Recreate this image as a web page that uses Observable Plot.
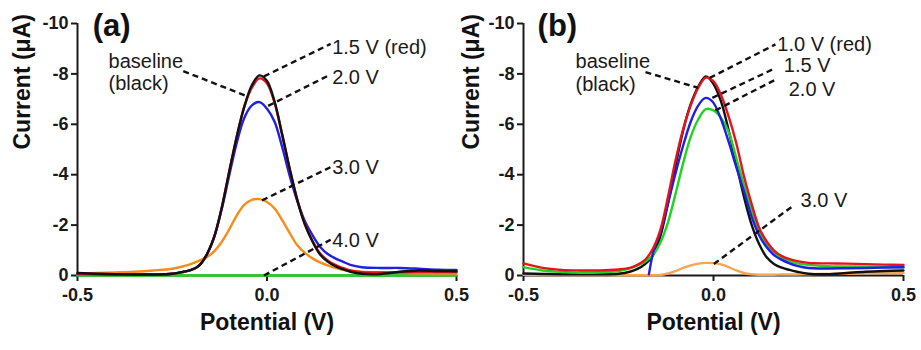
<!DOCTYPE html>
<html>
<head>
<meta charset="utf-8">
<script src="https://cdn.jsdelivr.net/npm/d3@7"></script>
<script src="https://cdn.jsdelivr.net/npm/@observablehq/plot@0.6"></script>
<style>
  html, body { margin: 0; padding: 0; background: #fff; }
  #wrap { display: flex; width: 921px; height: 350px; overflow: hidden; }
  #wrap svg { overflow: visible; }
  #wrap svg [aria-label$="tick label"] text { font-weight: bold; }
</style>
</head>
<body>
<div id="wrap"></div>
<script>
// ---------- shared axes ----------
const xTicks = [-0.5, 0, 0.5];
const yTicks = [0, -2, -4, -6, -8, -10];

// ---------- panel (a) ----------
const potentialA = [-0.5,-0.45,-0.4,-0.35,-0.3,-0.25,-0.22,-0.2,-0.18,-0.16,-0.14,-0.12,-0.1,-0.08,-0.06,-0.04,-0.02,0,0.02,0.04,0.06,0.08,0.1,0.12,0.14,0.16,0.18,0.2,0.22,0.25,0.3,0.35,0.4,0.45,0.5];
const baselineA = [-0.1,-0.07,-0.05,-0.04,-0.04,-0.07,-0.15,-0.22,-0.38,-0.8,-1.5,-2.65,-4.1,-5.5,-6.7,-7.55,-7.94,-7.72,-6.9,-5.6,-4.23,-2.99,-2.02,-1.35,-0.83,-0.55,-0.37,-0.25,-0.15,-0.07,-0.06,-0.15,-0.2,-0.18,-0.17];
const v15A = [-0.08,-0.06,-0.05,-0.04,-0.04,-0.07,-0.15,-0.22,-0.38,-0.8,-1.5,-2.65,-4.1,-5.5,-6.68,-7.45,-7.82,-7.62,-6.85,-5.58,-4.22,-3.0,-2.05,-1.38,-0.88,-0.6,-0.42,-0.3,-0.2,-0.13,-0.12,-0.13,-0.14,-0.14,-0.14];
const v20A = [-0.06,-0.05,-0.04,-0.04,-0.04,-0.07,-0.15,-0.22,-0.38,-0.8,-1.5,-2.6,-3.95,-5.25,-6.25,-6.75,-6.88,-6.62,-6.1,-5.1,-3.95,-2.95,-2.15,-1.6,-1.14,-0.85,-0.68,-0.55,-0.42,-0.33,-0.3,-0.3,-0.27,-0.23,-0.22];
const v30A = [-0.09,-0.1,-0.12,-0.15,-0.2,-0.27,-0.37,-0.46,-0.58,-0.72,-0.95,-1.32,-1.82,-2.38,-2.8,-3.0,-3.03,-2.92,-2.66,-2.2,-1.68,-1.2,-0.9,-0.68,-0.52,-0.4,-0.3,-0.23,-0.19,-0.15,-0.12,-0.1,-0.09,-0.08,-0.08];
const v40A = [0,0,0,0,0,0,0,0,0,0,0,0,0,0,0,0,0,0,0,0,0,0,0,0,0,0,0,0,0,0,0,0,0,0,0];

const textA = ["baseline", "(black)", "1.5 V (red)", "2.0 V", "3.0 V", "4.0 V"];
const textAx = [-0.418, -0.418, 0.172, 0.172, 0.172, 0.172];
const textAy = [-8.49, -7.61, -9.06, -7.86, -4.29, -1.39];
const leadAx1 = [-0.221, -0.008, 0.003, -0.013, -0.008];
const leadAy1 = [-8.11, -7.9, -6.73, -2.98, 0];
const leadAx2 = [-0.057, 0.168, 0.168, 0.168, 0.168];
const leadAy2 = [-7.14, -9.19, -7.98, -4.3, -1.42];

// ---------- panel (b) ----------
const potentialB = [-0.5,-0.45,-0.4,-0.35,-0.3,-0.25,-0.22,-0.2,-0.18,-0.16,-0.14,-0.12,-0.1,-0.08,-0.06,-0.04,-0.02,0,0.02,0.04,0.06,0.08,0.1,0.12,0.14,0.16,0.18,0.2,0.22,0.25,0.3,0.35,0.4,0.45,0.5];
const baselineB = [-0.08,-0.06,-0.05,-0.05,-0.05,-0.07,-0.15,-0.26,-0.45,-0.78,-1.55,-2.85,-4.35,-5.75,-6.8,-7.5,-7.9,-7.6,-6.9,-5.75,-4.43,-3.13,-2.03,-1.25,-0.72,-0.45,-0.31,-0.22,-0.15,-0.07,-0.05,-0.1,-0.15,-0.18,-0.2];
const v10B = [-0.48,-0.3,-0.22,-0.2,-0.2,-0.24,-0.3,-0.42,-0.62,-1.05,-1.8,-3.1,-4.56,-5.8,-6.75,-7.45,-7.85,-7.7,-7.15,-6.3,-5.25,-3.95,-2.85,-1.9,-1.35,-0.98,-0.77,-0.65,-0.57,-0.5,-0.48,-0.47,-0.45,-0.43,-0.42];
const v20B = [-0.33,-0.2,-0.14,-0.11,-0.12,-0.18,-0.28,-0.4,-0.55,-0.8,-1.3,-2.1,-3.24,-4.45,-5.5,-6.2,-6.6,-6.55,-6.25,-5.7,-4.65,-3.6,-2.6,-1.78,-1.25,-0.9,-0.7,-0.57,-0.48,-0.42,-0.37,-0.36,-0.35,-0.34,-0.33];
const v30B = [-0.03,-0.02,-0.02,-0.02,-0.02,-0.01,-0.01,-0.01,-0.01,-0.01,-0.02,-0.08,-0.17,-0.3,-0.4,-0.47,-0.5,-0.49,-0.44,-0.33,-0.2,-0.1,-0.05,-0.03,-0.03,-0.03,-0.04,-0.04,-0.04,-0.05,-0.06,-0.07,-0.09,-0.1,-0.1];
const potentialB15 = [-0.17,-0.16,-0.14,-0.12,-0.1,-0.08,-0.06,-0.04,-0.02,0,0.02,0.04,0.06,0.08,0.1,0.12,0.14,0.16,0.18,0.2,0.22,0.25,0.3,0.35,0.4,0.45,0.5];
const v15B = [-0.05,-0.85,-1.7,-2.85,-4.05,-5.15,-6.1,-6.75,-7.05,-6.85,-6.2,-5.3,-4.3,-3.35,-2.35,-1.6,-1.12,-0.8,-0.62,-0.48,-0.38,-0.3,-0.28,-0.29,-0.3,-0.32,-0.33];

const textB = ["baseline", "(black)", "1.0 V (red)", "1.5 V", "2.0 V", "3.0 V"];
const textBx = [-0.363, -0.363, 0.168, 0.185, 0.198, 0.229];
const textBy = [-8.48, -7.56, -9.18, -8.31, -7.38, -2.96];
const leadBx1 = [-0.179, -0.01, -0.003, 0.005, 0.001];
const leadBy1 = [-8.07, -7.84, -7.05, -6.55, -0.46];
const leadBx2 = [-0.041, 0.163, 0.163, 0.163, 0.211];
const leadBy2 = [-7.45, -9.17, -8.23, -7.77, -2.78];

// ---------- colours ----------
const cBlack = "#111111", cRed = "#e8121c", cBlue = "#1f1fe6", cGreen = "#1fd41f", cOrange = "#f98b1c", cOrangeB = "#f7a550";

const FONT = "'Liberation Sans', Arial, Helvetica, sans-serif";

function series(xs, ys) { return xs.map((x, i) => ({x, y: ys[i]})); }
function links(x1, y1, x2, y2) { return x1.map((_, i) => ({x1: x1[i], y1: y1[i], x2: x2[i], y2: y2[i]})); }
function labels(t, xs, ys) { return t.map((s, i) => ({t: s, x: xs[i], y: ys[i]})); }

function panel({width, marginLeft, marginRight, tag, tagX, curves, leads, texts, yLabelDx}) {
  const lineMarks = curves.map(c => Plot.line(series(c.x, c.y), {x: "x", y: "y", stroke: c.color, strokeWidth: 2.4, curve: c.curve || "catmull-rom"}));
  return Plot.plot({
    width, height: 350, marginLeft, marginRight, marginTop: 23, marginBottom: 75,
    style: {fontFamily: FONT, overflow: "visible", background: "transparent", color: "#1a1a1a"},
    x: {domain: [-0.5, 0.5]},
    y: {domain: [0, -10]},
    marks: [
      Plot.axisX({ticks: xTicks, tickFormat: d => d.toFixed(1), tickSize: 6, tickPadding: 7, fontSize: 18, fontWeight: "bold", strokeWidth: 2, label: null}),
      Plot.axisY({ticks: yTicks, tickFormat: d => String(d), tickSize: 6, tickPadding: 3, fontSize: 18, fontWeight: "bold", strokeWidth: 2, label: null}),
      Plot.ruleX([-0.5], {y1: 0, y2: -10, strokeWidth: 2}),
      Plot.ruleY([0], {x1: -0.5, x2: 0.5, strokeWidth: 2}),
      ...lineMarks,
      Plot.link(leads, {x1: "x1", y1: "y1", x2: "x2", y2: "y2", stroke: "#111", strokeWidth: 2.4, strokeDasharray: "6,4"}),
      Plot.text(texts, {x: "x", y: "y", text: "t", textAnchor: "start", fontSize: 20, fill: "#1a1a1a"}),
      Plot.text([tag], {x: tagX, y: -9.88, text: d => d, textAnchor: "start", fontSize: 31, fontWeight: "bold", fill: "#111"}),
      Plot.text(["Potential (V)"], {frameAnchor: "bottom", dy: 54, text: d => d, fontSize: 23, fontWeight: "bold", fill: "#111"}),
      Plot.text(["Current (\u03bcA)"], {frameAnchor: "left", dx: yLabelDx, rotate: -90, text: d => d, fontSize: 23, fontWeight: "bold", fill: "#111"})
    ]
  });
}

const chartA = panel({
  width: 460, marginLeft: 77, marginRight: 4, tag: "(a)", tagX: -0.46, yLabelDx: -55,
  curves: [
    {x: potentialA, y: v40A, color: cGreen},
    {x: potentialA, y: v30A, color: cOrange},
    {x: potentialA, y: v20A, color: cBlue},
    {x: potentialA, y: v15A, color: cRed},
    {x: potentialA, y: baselineA, color: cBlack}
  ],
  leads: links(leadAx1, leadAy1, leadAx2, leadAy2),
  texts: labels(textA, textAx, textAy)
});

const chartB = panel({
  width: 461, marginLeft: 63, marginRight: 18, tag: "(b)", tagX: -0.463, yLabelDx: -52,
  curves: [
    {x: potentialB, y: v30B, color: cOrangeB},
    {x: potentialB, y: baselineB, color: cBlack},
    {x: potentialB, y: v20B, color: cGreen},
    {x: potentialB15, y: v15B, color: cBlue, curve: "monotone-x"},
    {x: potentialB, y: v10B, color: cRed}
  ],
  leads: links(leadBx1, leadBy1, leadBx2, leadBy2),
  texts: labels(textB, textBx, textBy)
});

const wrap = document.getElementById("wrap");
wrap.appendChild(chartA);
wrap.appendChild(chartB);
</script>
</body>
</html>
